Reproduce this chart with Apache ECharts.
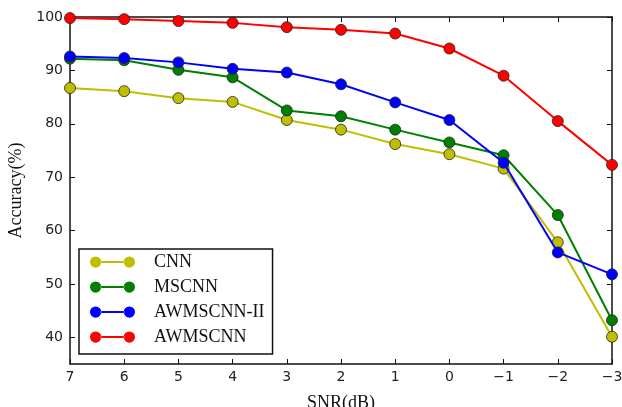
<!DOCTYPE html>
<html><head><meta charset="utf-8">
<script src="https://cdn.jsdelivr.net/npm/echarts@6/dist/echarts.min.js"></script>
<style>html,body{margin:0;padding:0;background:#fff}#c{width:622px;height:407px}</style>
</head><body><div id="c"></div>
<script>
const snr = [7, 6, 5, 4, 3, 2, 1, 0, -1, -2, -3];
const seriesNames = ['CNN', 'MSCNN', 'AWMSCNN-II', 'AWMSCNN'];
const cnn = [86.7, 86.1, 84.8, 84.1, 80.7, 78.9, 76.2, 74.3, 71.6, 57.8, 40.1];
const mscnn = [92.2, 91.9, 90.1, 88.7, 82.5, 81.4, 78.9, 76.5, 74.1, 62.9, 43.2];
const awmscnn2 = [92.6, 92.3, 91.5, 90.3, 89.6, 87.4, 84.0, 80.7, 72.7, 55.9, 51.8];
const awmscnn = [99.8, 99.6, 99.25, 98.9, 98.1, 97.6, 96.9, 94.1, 89.0, 80.5, 72.3];
const yTicks = [40, 50, 60, 70, 80, 90, 100];
const colors = ['#bfbf00', '#008000', '#0000ff', '#ff0000'];
const values = [cnn, mscnn, awmscnn2, awmscnn];

const chart = echarts.init(document.getElementById('c'));
const iconPath = 'path://M0.5,6a5.5,5.5 0 1,0 11,0a5.5,5.5 0 1,0 -11,0Z M33.5,6a5.5,5.5 0 1,0 11,0a5.5,5.5 0 1,0 -11,0Z M11,5H34V7H11Z';
const minusFmt = v => String(v).replace('-', '\u2212');
const axLine = {show: true, onZero: false, lineStyle: {color: '#111', width: 1.5}};
const tickIn = {show: true, inside: true, length: 5, lineStyle: {color: '#111', width: 1}};
const yTickIn = Object.assign({customValues: yTicks}, tickIn);
const lblStyle = {fontFamily: 'DejaVu Sans', fontSize: 14, color: '#222'};

chart.setOption({
  animation: false,
  grid: {left: 70, right: 10, top: 17, bottom: 43, outerBoundsMode: 'none', containLabel: false},
  xAxis: [{
    type: 'value', inverse: true, min: -3, max: 7, interval: 1,
    axisLine: axLine, axisTick: tickIn, splitLine: {show: false},
    axisLabel: Object.assign({formatter: minusFmt, margin: 6}, lblStyle),
    name: 'SNR(dB)', nameLocation: 'middle', nameGap: 30,
    nameTextStyle: {fontFamily: 'Liberation Serif', fontSize: 18, color: '#111'}
  }, {
    type: 'value', inverse: true, min: -3, max: 7, interval: 1, position: 'top',
    axisLine: axLine, axisTick: tickIn, splitLine: {show: false}, axisLabel: {show: false}
  }],
  yAxis: [{
    type: 'value', min: 35, max: 100,
    axisLine: axLine, axisTick: yTickIn, splitLine: {show: false},
    axisLabel: Object.assign({margin: 7, customValues: yTicks}, lblStyle),
    name: 'Accuracy(%)', nameLocation: 'middle', nameGap: 39,
    nameTextStyle: {fontFamily: 'Liberation Serif', fontSize: 18, color: '#111'}
  }, {
    type: 'value', min: 35, max: 100, position: 'right',
    axisLine: axLine, axisTick: yTickIn, splitLine: {show: false}, axisLabel: {show: false}
  }],
  legend: {
    orient: 'vertical', left: 79, top: 249,
    backgroundColor: '#fff', borderColor: '#111', borderWidth: 1.5, borderRadius: 0,
    padding: [4, 8, 8, 11], itemGap: 7, itemWidth: 45, itemHeight: 12,
    icon: iconPath,
    itemStyle: {borderWidth: 0},
    textStyle: {fontFamily: 'Liberation Serif', fontSize: 18, lineHeight: 18, color: '#111', padding: [0, 0, 0, 14]},
    data: seriesNames
  },
  series: seriesNames.map((name, i) => ({
    name: name, type: 'line', z: 2 + i,
    data: snr.map((x, j) => [x, values[i][j]]),
    symbol: 'circle', symbolSize: 11, clip: false,
    lineStyle: {color: colors[i], width: 2},
    itemStyle: {color: colors[i], borderColor: '#222', borderWidth: 0.8}
  }))
});
</script></body></html>
